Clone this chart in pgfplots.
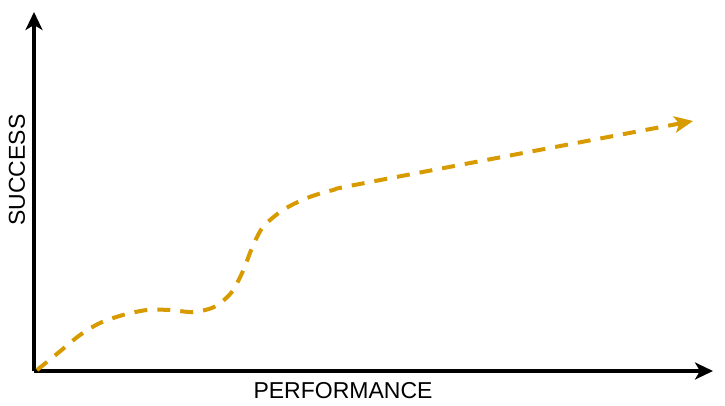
\documentclass[border=0pt]{standalone}
\usepackage{pgfplots}
\pgfplotsset{compat=1.18}
\usetikzlibrary{arrows.meta}
\usepackage{fontspec}
\setmainfont{Liberation Sans}
\definecolor{curve}{HTML}{D79B00}

\begin{document}
\begin{tikzpicture}
  \path[use as bounding box] (0,0) rectangle (725pt,405pt);
  \begin{axis}[
      at={(34pt,34pt)}, anchor=south west,
      scale only axis,
      width=679pt, height=359pt,
      xmin=0, xmax=679,
      ymin=0, ymax=359,
      axis lines=left,
      axis line style={line width=4pt, -{Stealth[length=18pt, width=17pt, inset=5pt]}},
      xtick=\empty, ytick=\empty,
      clip=false,
    ]

    % performance vs success
    \addplot[
      color=curve, line width=4pt,
      dash pattern=on 13pt off 10pt,
      smooth, tension=0.5,
      -{Stealth[length=19pt, width=17pt, inset=5pt, line width=0pt]}
    ]
    coordinates {
        (3,1)(24,18)(46,36)(66,48)(89,56)(113,61)(136,61)(159,59)(180,64)(197,78)(209,100)(218,123)(229,144)(249,161)(273,173)(299,181)(336,189)(659,250)
      };

    \node[font=\fontsize{23}{28}\selectfont] at (axis cs:309,-20) {PERFORMANCE};
    \node[font=\fontsize{23}{28}\selectfont, rotate=90] at (axis cs:-17,201) {SUCCESS};
  \end{axis}
\end{tikzpicture}
\end{document}
